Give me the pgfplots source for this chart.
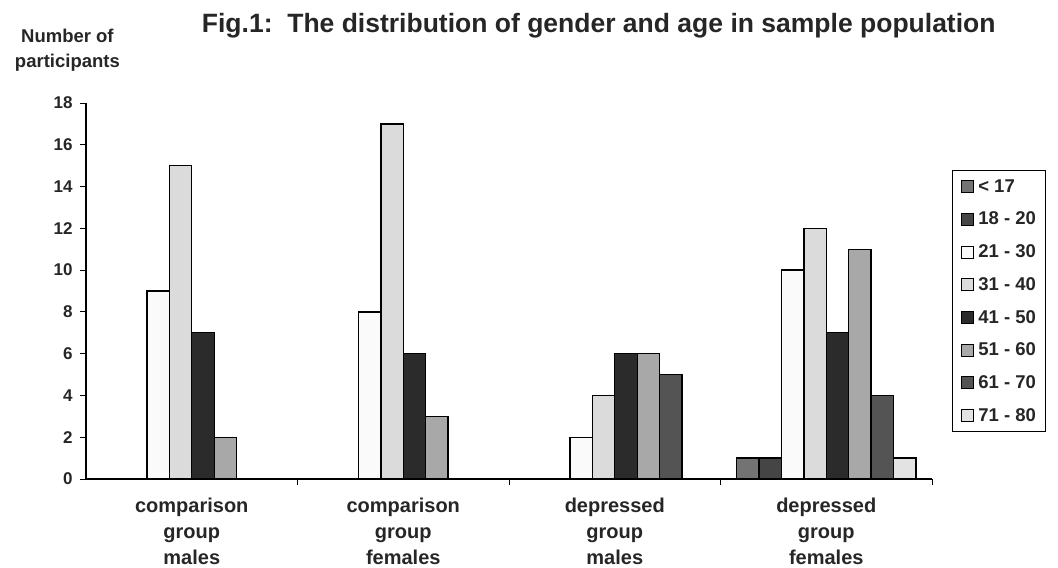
\documentclass[border=0pt]{standalone}
\usepackage{pgfplots}
\pgfplotsset{compat=1.18}
\usepackage{fontspec}
\setmainfont{Liberation Sans}
\definecolor{cA}{gray}{0.45}
\definecolor{cB}{gray}{0.27}
\definecolor{cC}{gray}{0.98}
\definecolor{cD}{gray}{0.86}
\definecolor{cE}{gray}{0.17}
\definecolor{cF}{gray}{0.66}
\definecolor{cG}{gray}{0.33}
\definecolor{cH}{gray}{0.89}
\begin{document}
\begin{tikzpicture}
\begin{axis}[
  scale only axis, width=846pt, height=376pt,
  ybar=0pt, bar width=22.4pt,
  xmin=0.5, xmax=4.5, ymin=0, ymax=18,
  axis x line=bottom, axis y line=left,
  axis line style={line width=1.2pt, -},
  ytick={0,2,...,18},
  xtick={1,2,3,4},
  xticklabels={comparison\\group\\males, comparison\\group\\females, depressed\\group\\males, depressed\\group\\females},
  minor xtick={1.5,2.5,3.5,4.5},
  major x tick style={draw=none},
  minor tick length=6pt, major tick length=6pt,
  tick align=outside,
  tick style={line width=1pt, black},
  /pgf/number format/assume math mode=true,
  yticklabel style={font=\fontsize{17}{20}\selectfont\bfseries, text=black!85, xshift=-4pt},
  xticklabel style={font=\fontsize{20}{26}\selectfont\bfseries, align=center, text=black!85, yshift=-9pt},
  clip=false,
  legend style={at={(1.0236,0.822)}, anchor=north west, draw=black, line width=1pt,
    font=\fontsize{18.5}{21}\selectfont\bfseries, text=black!85, row sep=14.3pt, inner xsep=8pt, inner ysep=7pt},
  legend cell align=left,
  legsq/.style={legend image code/.code={\draw[##1, line width=0.8pt] (1pt,-6pt) rectangle (13pt,6pt);}},
]
\addplot[fill=cA, draw=black, line width=1.3pt, legsq] coordinates {(4,1)};
\addplot[fill=cB, draw=black, line width=1.3pt, legsq] coordinates {(4,1)};
\addplot[fill=cC, draw=black, line width=1.3pt, legsq] coordinates {(1,9) (2,8) (3,2) (4,10)};
\addplot[fill=cD, draw=black, line width=1.3pt, legsq] coordinates {(1,15) (2,17) (3,4) (4,12)};
\addplot[fill=cE, draw=black, line width=1.3pt, legsq] coordinates {(1,7) (2,6) (3,6) (4,7)};
\addplot[fill=cF, draw=black, line width=1.3pt, legsq] coordinates {(1,2) (2,3) (3,6) (4,11)};
\addplot[fill=cG, draw=black, line width=1.3pt, legsq] coordinates {(3,5) (4,4)};
\addplot[fill=cH, draw=black, line width=1.3pt, legsq] coordinates {(4,1)};
\legend{\hspace{3pt}< 17, \hspace{3pt}18 - 20, \hspace{3pt}21 - 30, \hspace{3pt}31 - 40, \hspace{3pt}41 - 50, \hspace{3pt}51 - 60, \hspace{3pt}61 - 70, \hspace{3pt}71 - 80}
\node[font=\fontsize{26.5}{30}\selectfont\bfseries, text=black!85] at (rel axis cs:0.606,1.205) {Fig.1:\ \ The distribution of gender and age in sample population};
\node[font=\fontsize{18.5}{25}\selectfont\bfseries, text=black!85, align=center] at (rel axis cs:-0.022,1.141) {Number of\\participants};
\coordinate (BL) at (rel axis cs:-0.1017,-0.2287);
\coordinate (TR) at (rel axis cs:1.1489,1.274);
\end{axis}
\path (BL) rectangle (TR);
\end{tikzpicture}
\end{document}
